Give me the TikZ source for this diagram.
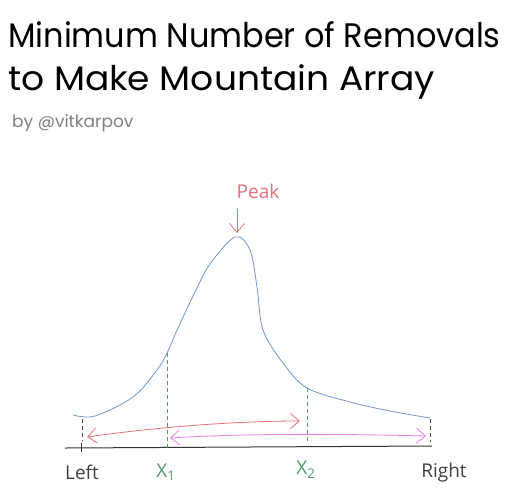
\documentclass[tikz,border=0pt]{standalone}
\usepackage{fontspec}
\setmainfont{Poppins}
\newfontfamily\labelfont{Open Sans}
\usetikzlibrary{arrows.meta}
\definecolor{curveblue}{HTML}{7096CC}
\definecolor{peakred}{HTML}{E8707A}
\definecolor{arrowmag}{HTML}{E77FE3}
\definecolor{xgreen}{HTML}{4E9A6A}
\definecolor{bygray}{HTML}{808080}
\tikzset{
  barbtip/.tip={Straight Barb[length=9pt,width=15pt]},
  titletext/.style={anchor=base west, inner sep=0pt, font=\fontsize{34}{34}\selectfont},
  lbl/.style={inner sep=0pt, font=\labelfont\fontsize{19}{19}\selectfont, text=black!75},
  guide/.style={dash pattern=on 4pt off 3pt, line width=0.7pt},
  twoway/.style={barbtip-barbtip, line width=0.8pt},
}
\begin{document}
\begin{tikzpicture}[x=1pt,y=-1pt]
\useasboundingbox (0,0) rectangle (510,501);
% title
\node[titletext, xscale=0.94] (t1) at (8,47) {Minimum Number of Removals};
\node[titletext, xscale=1.06] (t2) at (8,90) {to Make Mountain Array};
\node[anchor=base west, inner sep=0pt, text=bygray, font=\fontsize{17}{17}\selectfont] (by) at (12,127) {by @vitkarpov};
% curve
\draw[curveblue, line width=0.8pt] plot[smooth, tension=0.55] coordinates {
 (73,415) (95,416) (133,397) (157,370) (167,353) (178,328) (195,292) (210,264) (235,237) (250,250) (257,287) (263,330) (283,363) (307,388) (350,402) (390,411) (430,418)};
% axis
\coordinate (axL) at (65,448);
\coordinate (axR) at (432,446);
\draw[black!80, line width=1pt] (axL) -- (axR);
\coordinate (tickT) at (81,443);
\coordinate (tickB) at (81,452);
\draw[black!80, line width=0.9pt] (tickT) -- (tickB);
% guides
\coordinate (lgT) at (82,419); \coordinate (lgB) at (82,441);
\coordinate (rgT) at (430,419); \coordinate (rgB) at (430,442);
\draw[guide, black!70] (lgT) -- (lgB);
\draw[guide, black!70] (rgT) -- (rgB);
\coordinate (x1T) at (167,353); \coordinate (x1B) at (167,448);
\coordinate (x2T) at (307,388); \coordinate (x2B) at (307,441);
\draw[guide, xgreen] (x1T) -- (x1B);
\draw[guide, xgreen] (x2T) -- (x2B);
% arrows
\coordinate (ra) at (87,437); \coordinate (rb) at (300,421);
\draw[twoway, peakred] (ra) .. controls (150,428) and (230,421) .. (rb);
\coordinate (ma) at (170,438); \coordinate (mb) at (426,436);
\draw[twoway, arrowmag] (ma) .. controls (250,433) and (350,434) .. (mb);
% peak
\node[text=peakred, inner sep=0pt, font=\labelfont\fontsize{19}{19}\selectfont] (peak) at (258,191) {Peak};
\coordinate (pkT) at (237,209); \coordinate (pkB) at (237,233);
\draw[peakred, line width=0.8pt, -barbtip] (pkT) -- (pkB);
% labels
\node[lbl] (left) at (82,472) {Left};
\node[lbl, text=xgreen] (x1) at (166,472) {X\textsubscript{1}};
\node[lbl, text=xgreen] (x2) at (306,470) {X\textsubscript{2}};
\node[lbl] (right) at (444,473) {Right};
\end{tikzpicture}
\end{document}
